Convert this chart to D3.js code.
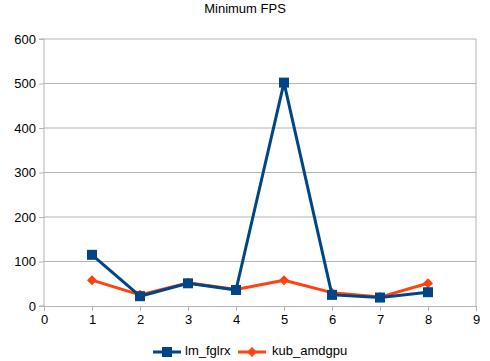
<!DOCTYPE html>
<html>
<head>
<meta charset="utf-8">
<script src="https://cdn.jsdelivr.net/npm/d3@7"></script>
<style>
  body { margin: 0; background: #fff; }
  text { font-family: "Liberation Sans", Arial, sans-serif; }
</style>
</head>
<body>
<div id="chart"></div>
<script>
// Data
const runs = [1, 2, 3, 4, 5, 6, 7, 8];
const lmFglrx = [115, 22, 51, 36, 502, 25, 19, 31];
const kubAmdgpu = [58, 25, 52, 37, 58, 30, 20, 51];
const xTicks = [0, 1, 2, 3, 4, 5, 6, 7, 8, 9];
const yTicks = [0, 100, 200, 300, 400, 500, 600];

const width = 490;
const height = 361;
const margin = { top: 39, right: 14, bottom: 55, left: 44 };

const svg = d3.select("#chart")
  .append("svg")
    .attr("width", width)
    .attr("height", height);

const xScale = d3.scaleLinear()
  .domain([0, 9])
  .range([margin.left, width - margin.right]);
const yScale = d3.scaleLinear()
  .domain([0, 600])
  .range([height - margin.bottom, margin.top]);

// Title
svg.append("text")
  .text("Minimum FPS")
  .attr("x", width / 2)
  .attr("y", 13)
  .attr("text-anchor", "middle")
  .attr("font-size", 13)
  .attr("fill", "#000");

// Gridlines
svg.append("g")
  .selectAll("line")
  .data(yTicks.filter(d => d > 0))
  .join("line")
    .attr("x1", xScale(0))
    .attr("x2", xScale(9))
    .attr("y1", d => yScale(d))
    .attr("y2", d => yScale(d))
    .attr("stroke", "#b3b3b3")
    .attr("stroke-width", 1);

// Right border of the plot area
svg.append("line")
  .attr("x1", xScale(9)).attr("x2", xScale(9))
  .attr("y1", yScale(600)).attr("y2", yScale(0))
  .attr("stroke", "#b3b3b3");

// Axes
const yAxis = svg.append("g")
  .attr("transform", `translate(${xScale(0)},0)`)
  .call(d3.axisLeft(yScale).tickValues(yTicks).tickSize(5).tickPadding(3));
const xAxis = svg.append("g")
  .attr("transform", `translate(0,${yScale(0)})`)
  .call(d3.axisBottom(xScale).tickValues(xTicks).tickSize(5).tickPadding(4));

[yAxis, xAxis].forEach(ax => {
  ax.select(".domain").attr("stroke", "#b3b3b3");
  ax.selectAll(".tick line").attr("stroke", "#b3b3b3");
  ax.selectAll(".tick text")
    .attr("font-size", 13)
    .attr("font-family", "Liberation Sans, Arial, sans-serif")
    .attr("fill", "#000");
});
yAxis.select(".domain").attr("d", `M-5,${yScale(600)}H0V${yScale(0)}H-5`);

// Series
const series = [
  { name: "lm_fglrx", values: lmFglrx, color: "#004586", size: 100, rotate: 0 },
  { name: "kub_amdgpu", values: kubAmdgpu, color: "#ff420e", size: 50, rotate: 45 }
];

const lineGen = d3.line()
  .x((d, i) => xScale(runs[i]))
  .y(d => yScale(d));

// Draw orange first so blue sits on top
[series[1], series[0]].forEach(s => {
  svg.append("path")
    .attr("d", lineGen(s.values))
    .attr("fill", "none")
    .attr("stroke", s.color)
    .attr("stroke-width", 3)
    .attr("stroke-linejoin", "round");
  svg.append("g")
    .selectAll("path")
    .data(s.values)
    .join("path")
      .attr("transform", (d, i) => `translate(${xScale(runs[i])},${yScale(d)}) rotate(${s.rotate})`)
      .attr("d", d3.symbol().type(d3.symbolSquare).size(s.size))
      .attr("fill", s.color);
});

// Legend
const legendY = 352;
const legendItems = [
  { s: series[0], x: 153, textX: 185 },
  { s: series[1], x: 238, textX: 272 }
];
legendItems.forEach(({ s, x, textX }) => {
  svg.append("line")
    .attr("x1", x).attr("x2", x + 28)
    .attr("y1", legendY).attr("y2", legendY)
    .attr("stroke", s.color)
    .attr("stroke-width", 3);
  svg.append("path")
    .attr("transform", `translate(${x + 14},${legendY}) rotate(${s.rotate})`)
    .attr("d", d3.symbol().type(d3.symbolSquare).size(s.size))
    .attr("fill", s.color);
  svg.append("text")
    .text(s.name)
    .attr("x", textX)
    .attr("y", legendY)
    .attr("dominant-baseline", "middle")
    .attr("font-size", 13)
    .attr("fill", "#000");
});
</script>
</body>
</html>
